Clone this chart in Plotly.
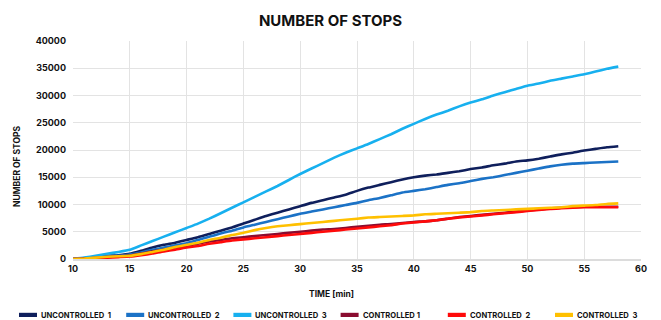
import plotly.graph_objects as go

# Time axis (minutes) and cumulative number of stops per scenario
time_min = list(range(10, 59))

uncontrolled_1 = [0, 150, 350, 550, 700, 950, 1500, 2100, 2600, 3000,
                  3500, 4000, 4600, 5200, 5800, 6500, 7200, 7900, 8500, 9100,
                  9700, 10300, 10800, 11300, 11800, 12500, 13100, 13600, 14100, 14600,
                  15000, 15300, 15500, 15800, 16100, 16500, 16800, 17200, 17500, 17900,
                  18100, 18400, 18800, 19200, 19500, 19900, 20200, 20500, 20700]

uncontrolled_2 = [0, 120, 300, 450, 600, 800, 1200, 1700, 2100, 2500,
                  2900, 3500, 4100, 4700, 5200, 5800, 6300, 6800, 7300, 7800,
                  8300, 8700, 9100, 9500, 9900, 10300, 10800, 11200, 11700, 12200,
                  12500, 12800, 13200, 13600, 13900, 14300, 14700, 15000, 15400, 15800,
                  16200, 16600, 17000, 17300, 17500, 17600, 17700, 17800, 17900]

uncontrolled_3 = [0, 250, 600, 950, 1300, 1700, 2500, 3300, 4100, 4900,
                  5700, 6500, 7400, 8400, 9400, 10400, 11400, 12400, 13400, 14500,
                  15600, 16600, 17600, 18600, 19500, 20300, 21100, 22000, 22900, 23900,
                  24800, 25700, 26500, 27200, 28000, 28700, 29300, 30000, 30600, 31200,
                  31800, 32200, 32700, 33100, 33500, 33900, 34400, 34900, 35300]

controlled_1 = [0, 80, 200, 350, 500, 650, 1000, 1400, 1700, 2100,
                2400, 2800, 3200, 3500, 3800, 4000, 4200, 4400, 4600, 4800,
                5000, 5200, 5400, 5500, 5700, 5900, 6100, 6300, 6400, 6600,
                6800, 6900, 7100, 7400, 7700, 7900, 8100, 8300, 8500, 8700,
                8900, 9100, 9300, 9400, 9500, 9600, 9600, 9600, 9600]

controlled_2 = [0, 50, 150, 250, 350, 450, 700, 1000, 1400, 1700,
                2100, 2400, 2800, 3100, 3400, 3600, 3800, 4000, 4200, 4400,
                4600, 4800, 5000, 5200, 5400, 5600, 5800, 6000, 6200, 6500,
                6700, 6900, 7100, 7400, 7600, 7800, 8000, 8200, 8400, 8600,
                8800, 9000, 9200, 9300, 9400, 9500, 9500, 9500, 9500]

controlled_3 = [0, 100, 250, 400, 500, 600, 900, 1300, 1700, 2200,
                2600, 3000, 3500, 3900, 4400, 4800, 5300, 5700, 6000, 6200,
                6400, 6600, 6800, 7000, 7200, 7400, 7600, 7700, 7800, 7900,
                8000, 8200, 8300, 8400, 8500, 8600, 8800, 8900, 9000, 9100,
                9200, 9300, 9400, 9500, 9700, 9800, 9900, 10100, 10200]

series_names = ["UNCONTROLLED\u00a0\u00a01", "UNCONTROLLED\u00a0\u00a02", "UNCONTROLLED\u00a0\u00a03",
                "CONTROLLED\u00a01", "CONTROLLED\u00a0\u00a02", "CONTROLLED\u00a0\u00a03"]
series_values = [uncontrolled_1, uncontrolled_2, uncontrolled_3,
                 controlled_1, controlled_2, controlled_3]
series_colors = ["#0f1f5c", "#1b72c6", "#17b0ef", "#8a0c30", "#ff0a0a", "#ffc000"]

FONT = "Inter"
W, H = 661, 320
ML, MR, MT, MB = 73, 20, 41, 61
PW, PH = W - ML - MR, H - MT - MB


def px_to_paper_x(px):
    return (px - ML) / PW


def px_to_paper_y(py):
    return (H - MB - py) / PH


fig = go.Figure()

for name, vals, color in zip(series_names, series_values, series_colors):
    fig.add_trace(go.Scatter(
        x=time_min, y=vals, mode="lines", name=name,
        line=dict(color=color, width=2.6, shape="spline", smoothing=0.4),
        showlegend=False,
    ))

# Legend row along the bottom: a colour bar followed by the series name
shapes = []
annotations = []
for i, (name, color) in enumerate(zip(series_names, series_colors)):
    left = 19 + 107.2 * i
    shapes.append(dict(
        type="rect", xref="paper", yref="paper",
        x0=px_to_paper_x(left), x1=px_to_paper_x(left + 18),
        y0=px_to_paper_y(317), y1=px_to_paper_y(312.8),
        fillcolor=color, line=dict(width=0), layer="above",
    ))
    annotations.append(dict(
        text=f"<b>{name}</b>", xref="paper", yref="paper",
        x=px_to_paper_x(left + 20), y=px_to_paper_y(315),
        xanchor="left", yanchor="middle", showarrow=False,
        font=dict(family=FONT, size=7.6, color="#111111"),
    ))

# Axis titles
annotations.append(dict(
    text="<b>TIME [min]</b>", xref="paper", yref="paper",
    x=px_to_paper_x(331), y=px_to_paper_y(294),
    xanchor="center", yanchor="middle", showarrow=False,
    font=dict(family=FONT, size=8.5, color="#111111"),
))
annotations.append(dict(
    text="<b>NUMBER OF STOPS</b>", xref="paper", yref="paper",
    x=px_to_paper_x(17), y=px_to_paper_y(166), textangle=-90,
    xanchor="center", yanchor="middle", showarrow=False,
    font=dict(family=FONT, size=8.5, color="#111111"),
))

fig.update_layout(
    width=W, height=H,
    margin=dict(l=ML, r=MR, t=MT, b=MB, autoexpand=False),
    paper_bgcolor="white", plot_bgcolor="white",
    font=dict(family=FONT, color="#111111"),
    title=dict(text="<b>NUMBER OF STOPS</b>", x=0.5, xanchor="center",
               y=1 - 21 / H, yanchor="middle",
               font=dict(family=FONT, size=15, color="#111111")),
    showlegend=False,
    shapes=shapes,
    annotations=annotations,
)

fig.update_xaxes(
    range=[10, 60], tick0=10, dtick=5,
    showgrid=True, gridcolor="#e3e3e3", gridwidth=1,
    zeroline=False, showline=True, linecolor="#dcdcdc", linewidth=1.5,
    mirror=False, ticks="",
    tickfont=dict(family=FONT, size=9, color="#111111", weight="bold"),
)

fig.update_yaxes(
    range=[0, 40000], tick0=0, dtick=5000, tickformat="d",
    showgrid=True, gridcolor="#e3e3e3", gridwidth=1,
    zeroline=False, showline=False, ticks="",
    tickfont=dict(family=FONT, size=9, color="#111111", weight="bold"),
    ticklabelstandoff=6,
)

fig.write_html("out.html")
